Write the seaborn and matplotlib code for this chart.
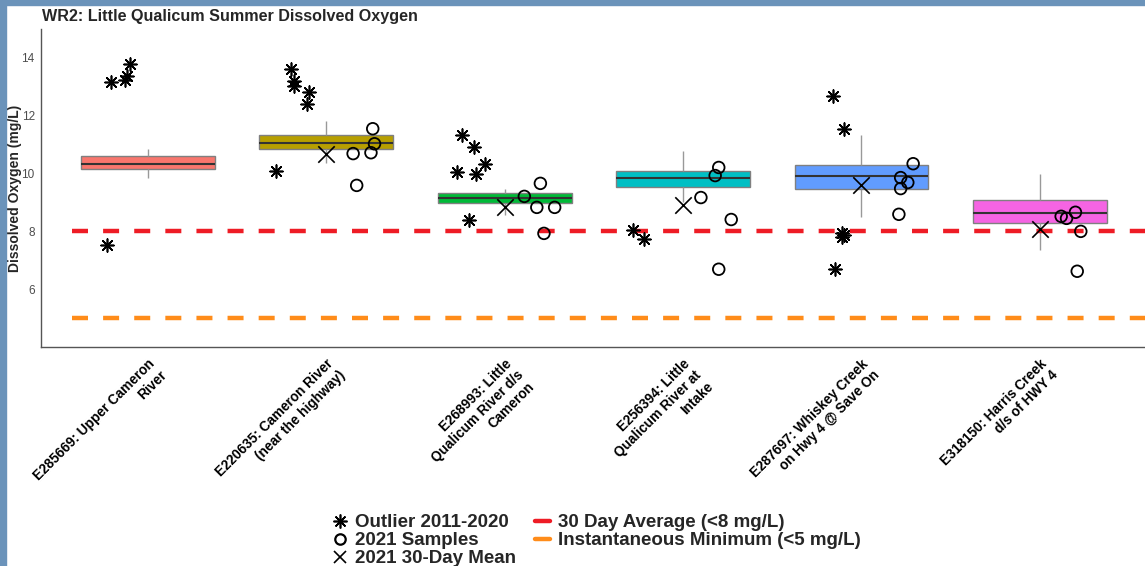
import numpy as np
import pandas as pd
import matplotlib
matplotlib.use("Agg")
import matplotlib.pyplot as plt
import seaborn as sns
from matplotlib.lines import Line2D
from matplotlib.patches import Rectangle

# Sites (x categories)
sites = [
    "E285669: Upper Cameron\nRiver",
    "E220635: Cameron River\n(near the highway)",
    "E268993: Little\nQualicum River d/s\nCameron",
    "E256394: Little\nQualicum River at\nIntake",
    "E287697: Whiskey Creek\non Hwy 4 @ Save On",
    "E318150: Harris Creek\nd/s of HWY 4",
]
box_colors = ["#F8766D", "#B79F00", "#00BA38", "#00BFC4", "#619CFF", "#F564E3"]

# 2011-2020 box summaries (whisker low, Q1, median, Q3, whisker high)
box_low = [9.86, 10.38, 8.55, 9.00, 8.48, 7.34]
box_q1 = [10.17, 10.86, 8.97, 9.52, 9.48, 8.28]
box_med = [10.34, 11.07, 9.17, 9.86, 9.93, 8.62]
box_q3 = [10.62, 11.34, 9.31, 10.10, 10.31, 9.07]
box_high = [10.86, 11.83, 9.48, 10.79, 11.34, 9.97]

# Outliers 2011-2020
outlier_site = [0, 0, 0, 0, 0, 1, 1, 1, 1, 1, 1, 2, 2, 2, 2, 2, 2, 3, 3, 4, 4, 4, 4, 4, 4]
outlier_value = [13.17, 13.24, 13.38, 13.79, 7.52,
                 13.62, 13.21, 13.03, 12.83, 12.41, 10.10,
                 11.34, 10.93, 10.07, 9.97, 10.34, 8.41,
                 8.03, 7.72,
                 12.69, 11.55, 7.93, 7.79, 7.86, 6.69]
outlier_jitter = [-0.21, -0.13, -0.12, -0.10, -0.23,
                  -0.20, -0.18, -0.18, -0.10, -0.11, -0.28,
                  -0.24, -0.17, -0.27, -0.16, -0.11, -0.20,
                  -0.28, -0.22,
                  -0.16, -0.10, -0.11, -0.11, -0.10, -0.15]

# 2021 samples
sample_site = [1] * 5 + [2] * 5 + [3] * 5 + [4] * 5 + [5] * 5
sample_value = [10.69, 9.59, 10.72, 11.55, 11.03,
                9.21, 9.66, 8.83, 8.83, 7.93,
                10.21, 9.93, 9.17, 8.41, 6.69,
                10.34, 9.86, 9.69, 9.48, 8.59,
                8.52, 8.45, 8.66, 8.00, 6.62]
sample_jitter = [0.15, 0.17, 0.25, 0.26, 0.27,
                 0.11, 0.20, 0.18, 0.28, 0.22,
                 0.20, 0.18, 0.10, 0.27, 0.20,
                 0.29, 0.22, 0.26, 0.22, 0.21,
                 0.12, 0.15, 0.20, 0.23, 0.21]

# 2021 30-day mean
mean_site = [1, 2, 3, 4, 5]
mean_value = [10.69, 8.86, 8.90, 9.59, 8.07]

# guideline values
avg_limit = 8
inst_limit = 5

# five-number rows so the boxplot quartiles land exactly on the summary values
box_rows = []
for i, s in enumerate(sites):
    for v in [box_low[i], box_q1[i], box_med[i], box_q3[i], box_high[i]]:
        box_rows.append({"site": s, "do": v})
box_df = pd.DataFrame(box_rows)

out_df = pd.DataFrame({"x": np.array(outlier_site) + np.array(outlier_jitter), "do": outlier_value})
smp_df = pd.DataFrame({"x": np.array(sample_site) + np.array(sample_jitter), "do": sample_value})
mean_df = pd.DataFrame({"x": mean_site, "do": mean_value})

sns.set_style("white")
plt.rcParams["font.family"] = ["Liberation Sans", "DejaVu Sans"]

fig = plt.figure(figsize=(11.45, 5.66), dpi=100)
ax = fig.add_axes([41 / 1145, 219 / 566, 1 - 41 / 1145, 318 / 566])

sns.boxplot(data=box_df, x="site", y="do", hue="site", order=sites, hue_order=sites,
            palette=box_colors, whis=np.inf, width=0.75, linewidth=1.0,
            linecolor="#808080", showcaps=False, legend=False, saturation=1, ax=ax,
            medianprops={"color": "#333333", "linewidth": 1.5},
            whiskerprops={"color": "#999999", "linewidth": 1.0})

ax.axhline(avg_limit, xmin=0.028, color="#EE1C25", lw=3.2, dashes=(3.6, 3.4), zorder=2)
ax.axhline(inst_limit, xmin=0.028, color="#FF8C1A", lw=3.2, dashes=(3.6, 3.4), zorder=2)

sns.scatterplot(data=out_df, x="x", y="do", marker=(8, 2, 0), s=85, color="black",
                linewidth=1.2, ax=ax, zorder=4, legend=False)
sns.scatterplot(data=smp_df, x="x", y="do", marker="o", s=70, facecolor="none",
                edgecolor="black", linewidth=1.3, ax=ax, zorder=4, legend=False)
sns.scatterplot(data=mean_df, x="x", y="do", marker="x", s=140, color="black",
                linewidth=1.2, ax=ax, zorder=4, legend=False)

ax.set_xlim(-0.6, 5.59)
ax.set_ylim(4, 15)
ax.set_yticks([6, 8, 10, 12, 14])
ax.set_xticks(range(len(sites)))
ax.set_xticklabels(sites, rotation=45, ha="right", va="top", rotation_mode="anchor",
                   fontsize=9.8, fontweight="bold", color="black", multialignment="right")
ax.tick_params(axis="y", labelsize=8.5, labelcolor="#4D4D4D", length=3, color="#555555",
               width=0.8, pad=1.5)
ax.tick_params(axis="x", length=3, color="#555555", width=0.8, pad=4)
ax.set_xlabel("")
ax.set_ylabel("Dissolved Oxygen (mg/L)", fontsize=10, fontweight="bold")
ax.yaxis.set_label_coords(-0.0172, 0.5)
sns.despine(ax=ax)
for sp in ["left", "bottom"]:
    ax.spines[sp].set_color("#555555")
    ax.spines[sp].set_linewidth(1.0)

fig.text(42 / 1145, 1 - 16 / 566, "WR2: Little Qualicum Summer Dissolved Oxygen",
         fontsize=11.6, fontweight="bold", va="center", ha="left")

handles = [
    Line2D([], [], marker=(8, 2, 0), color="black", ls="none", markersize=10, mew=1.2),
    Line2D([], [], marker="o", mfc="none", mec="black", ls="none", markersize=7.5, mew=1.6),
    Line2D([], [], marker="x", color="black", ls="none", markersize=9, mew=1.2),
    Line2D([], [], color="#EE1C25", lw=3.2),
    Line2D([], [], color="#FF8C1A", lw=3.2),
]
labels = ["Outlier 2011-2020", "2021 Samples", "2021 30-Day Mean",
          "30 Day Average (<8 mg/L)", "Instantaneous Minimum (<5 mg/L)"]
fig.legend(handles, labels, ncol=2, loc="lower center", bbox_to_anchor=(0.521, -0.032),
           frameon=False, prop={"size": 13.5, "weight": "bold"}, handlelength=0.8,
           handletextpad=0.4, labelspacing=0.05, columnspacing=1.0)

# screenshot frame
fig.patches.append(Rectangle((0, 0), 6 / 1145, 1, transform=fig.transFigure,
                             color="#6B93BA", zorder=10))
fig.patches.append(Rectangle((0, 1 - 5 / 566), 1, 5 / 566, transform=fig.transFigure,
                             color="#6B93BA", zorder=10))

fig.savefig("out.png", dpi=100)
